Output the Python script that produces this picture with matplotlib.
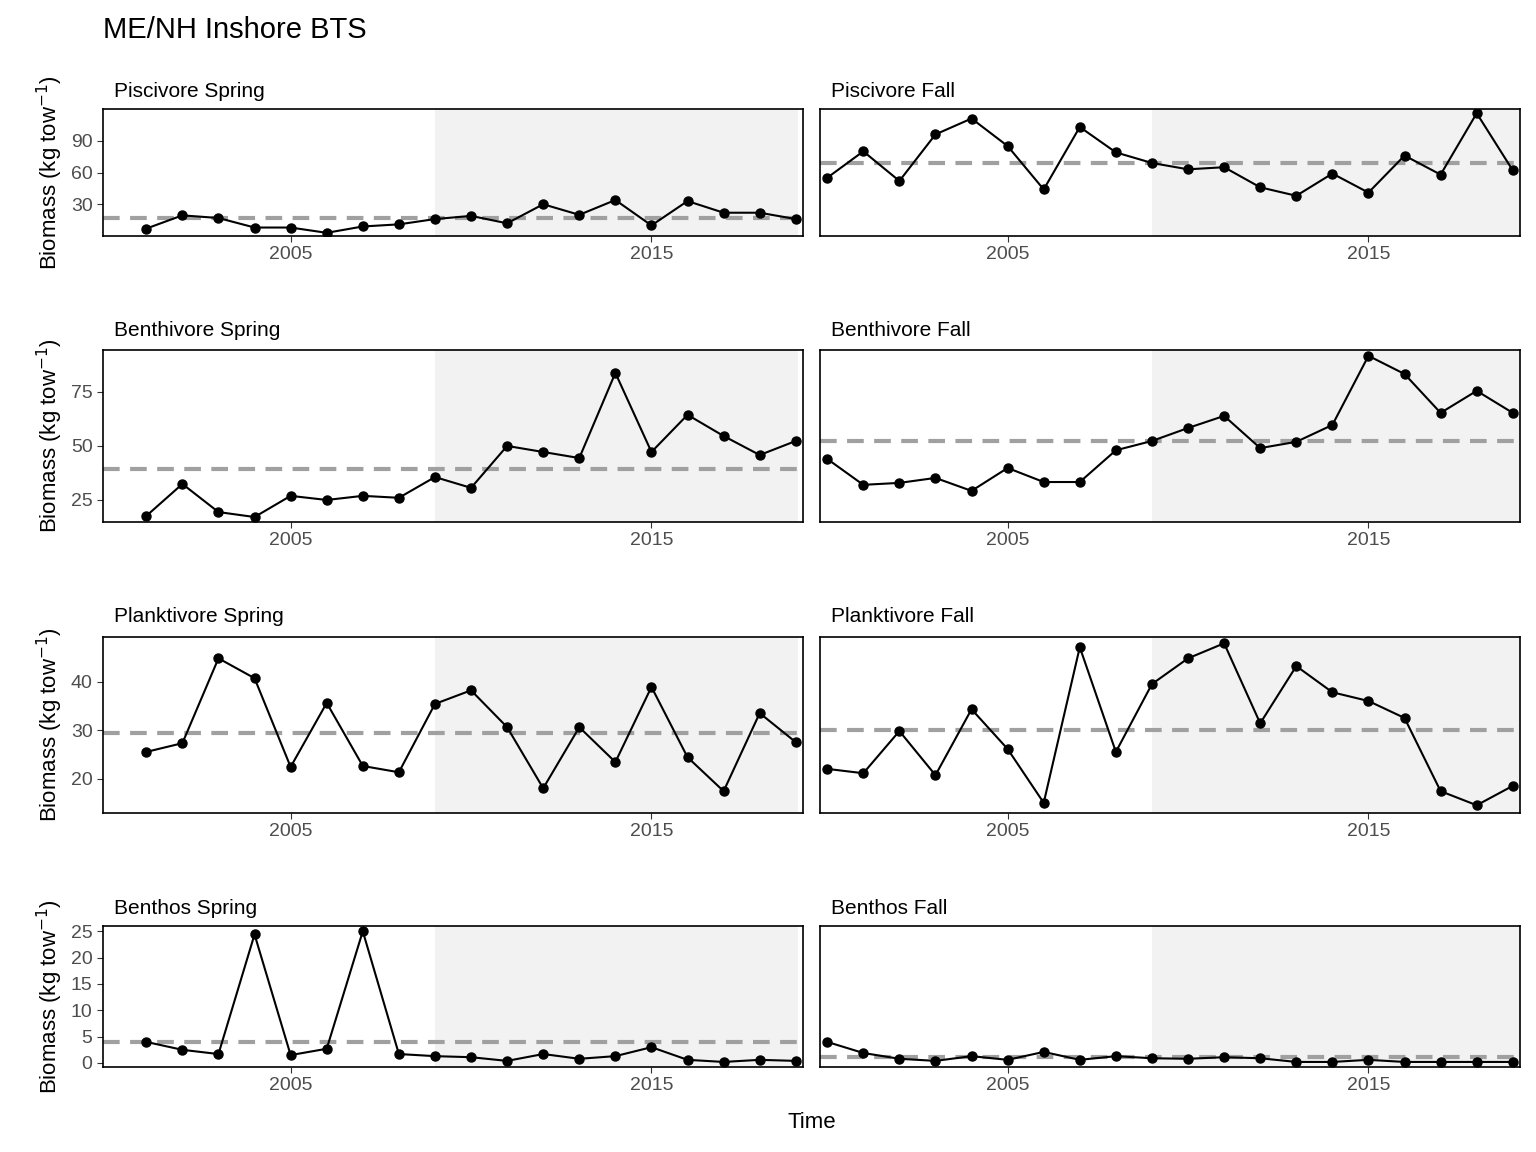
import matplotlib
matplotlib.use("Agg")
import matplotlib.pyplot as plt

plt.rcParams['font.family'] = ['Liberation Sans', 'DejaVu Sans']

spring_years = list(range(2001, 2020))
fall_years = list(range(2000, 2020))

pisc_spring = [7, 19.5, 17, 8, 8, 3, 9, 11, 16, 19, 12, 30, 20, 34, 10, 33, 22, 22, 16]
pisc_fall = [55, 80, 52, 96, 111, 85, 44, 103, 79, 69, 63, 65, 46, 38, 59, 41, 76, 58, 116, 62]
benth_spring = [17.6, 32.4, 19.4, 17.1, 26.9, 25, 26.9, 26, 35.6, 30.6, 50, 47.2, 44.4, 83.8, 47.2, 64.4, 54.6, 45.8, 52.3]
benth_fall = [44, 32, 32.9, 35.2, 29.2, 39.8, 33.3, 33.3, 48, 52.3, 58.3, 63.9, 49, 51.9, 59.7, 91.7, 83.3, 65.3, 75.5, 65.3]
plank_spring = [25.5, 27.3, 44.8, 40.7, 22.4, 35.6, 22.6, 21.3, 35.4, 38.2, 30.6, 18, 30.6, 23.4, 38.9, 24.4, 17.4, 33.5, 27.5]
plank_fall = [22, 21.1, 29.8, 20.7, 34.3, 26.1, 15, 47.1, 25.5, 39.5, 44.8, 47.9, 31.4, 43.2, 37.8, 36, 32.5, 17.4, 14.5, 18.5]
bent_spring = [4, 2.5, 1.7, 24.4, 1.5, 2.7, 25, 1.7, 1.3, 1.1, 0.4, 1.7, 0.8, 1.3, 3, 0.6, 0.2, 0.6, 0.4]
bent_fall = [4, 1.9, 0.8, 0.4, 1.3, 0.6, 2.1, 0.6, 1.3, 0.9, 0.8, 1.1, 0.9, 0.2, 0.2, 0.6, 0.2, 0.2, 0.2, 0.2]

means = {"Piscivore": (17, 69), "Benthivore": (39.4, 52.3), "Planktivore": (29.4, 30), "Benthos": (4, 1.1)}
rows = [
    ("Piscivore", pisc_spring, pisc_fall, (0, 120), [30, 60, 90]),
    ("Benthivore", benth_spring, benth_fall, (14.8, 94.4), [25, 50, 75]),
    ("Planktivore", plank_spring, plank_fall, (12.9, 49.2), [20, 30, 40]),
    ("Benthos", bent_spring, bent_fall, (-0.76, 26), [0, 5, 10, 15, 20, 25]),
]
row_px = [(109, 236), (350, 522), (637, 813), (926, 1067)]
col_px = [(103, 803), (820, 1520)]
W, H = 1536, 1152

fig = plt.figure(figsize=(15.36, 11.52), dpi=100)
fig.text(103 / W, 1 - 30 / H, "ME/NH Inshore BTS", fontsize=21, va="center", ha="left")

for r, (name, sp, fa, ylim, yt) in enumerate(rows):
    top, bot = row_px[r]
    for c in range(2):
        l, rr = col_px[c]
        ax = fig.add_axes([l / W, 1 - bot / H, (rr - l) / W, (bot - top) / H])
        yrs = spring_years if c == 0 else fall_years
        vals = sp if c == 0 else fa
        season = "Spring" if c == 0 else "Fall"
        ax.axvspan(2009, 2019.05 if c == 0 else 2020, color="#f2f2f2", zorder=0, lw=0)
        ax.axhline(means[name][c], color="#a0a0a0", ls=(0, (4, 2.5)), lw=3, zorder=1)
        ax.plot(yrs, vals, color="black", lw=1.5, marker="o", ms=6.5, zorder=3)
        ax.set_xlim(1999.8, 2019.2)
        ax.set_ylim(*ylim)
        ax.set_xticks([2005, 2015])
        ax.tick_params(labelsize=14, colors="#333333", labelcolor="#4d4d4d", length=4)
        if c == 1:
            ax.set_yticks([])
        else:
            ax.set_yticks(yt)
            ax.set_ylabel("Biomass (kg tow$^{-1}$)", fontsize=16)
        for s in ax.spines.values():
            s.set_linewidth(1.2)
        ax.text(0.016, 1.06, f"{name} {season}", transform=ax.transAxes, fontsize=15, va="bottom", ha="left")

fig.text((103 + 1520) / 2 / W, 1 - 1122 / H, "Time", fontsize=16, ha="center", va="center")
fig.savefig("out.png", dpi=100)
